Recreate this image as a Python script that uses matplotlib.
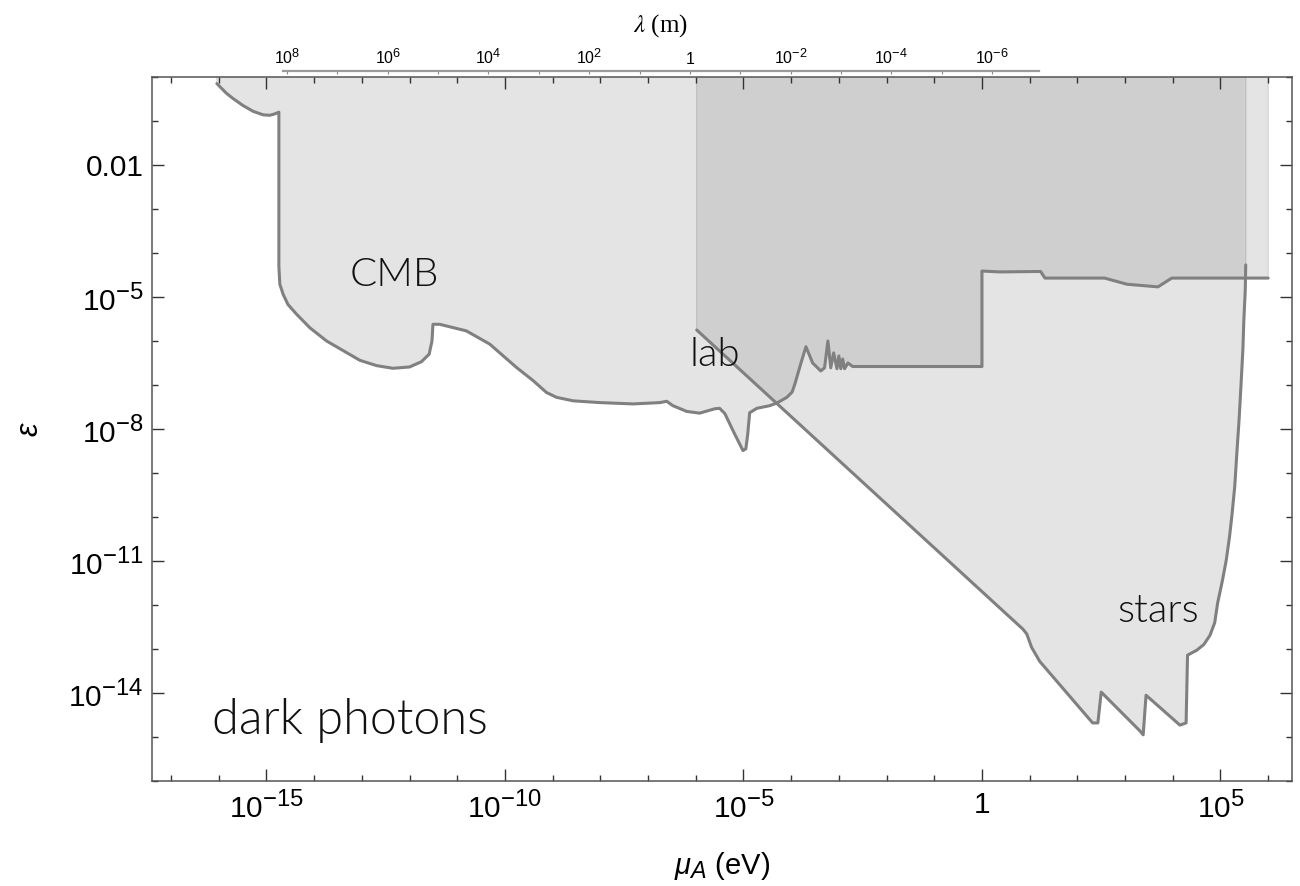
import numpy as np
import matplotlib
matplotlib.use("Agg")
import matplotlib.pyplot as plt
import matplotlib._mathtext as _mathtext
from matplotlib.patches import Polygon
from matplotlib.ticker import FixedLocator, FixedFormatter, NullFormatter

plt.rcParams['font.family'] = ['Liberation Sans', 'DejaVu Sans']
plt.rcParams['mathtext.fontset'] = 'custom'
plt.rcParams['mathtext.rm'] = 'Liberation Sans'
plt.rcParams['mathtext.it'] = 'Liberation Sans:italic'
plt.rcParams['mathtext.bf'] = 'Liberation Sans:bold'
# slightly larger super/subscripts than the mathtext default
_mathtext.SHRINK_FACTOR = 0.8

# CMB exclusion boundary: log10(mass / eV) and log10(kinetic mixing)
cmb_log_mass = [-16.04, -15.84, -15.70, -15.49, -15.28, -15.07, -14.93, -14.83,
                -14.74, -14.74, -14.72, -14.65, -14.55, -14.37, -14.09, -13.74,
                -13.39, -13.04, -12.69, -12.35, -12.00, -11.75, -11.59, -11.53,
                -11.51, -11.37, -10.81, -10.32, -9.76, -9.41, -9.13, -8.92,
                -8.57, -8.01, -7.31, -6.75, -6.61, -6.48, -6.19, -5.92, -5.60,
                -5.50, -5.39, -5.20, -5.01, -4.95, -4.91, -4.87, -4.72, -4.45,
                -4.30, -4.09, -3.98, -3.92, -3.80, -3.69, -3.55, -3.38, -3.30,
                -3.23, -3.17, -3.11, -3.04, -3.00, -2.96, -2.92, -2.88, -2.81,
                -2.71, 0.00, 0.00, 0.37, 1.23, 1.32, 2.57, 3.04, 3.69, 3.98, 6.00]
cmb_log_eps = [-0.15, -0.37, -0.49, -0.65, -0.78, -0.86, -0.87, -0.84,
               -0.80, -4.30, -4.71, -4.94, -5.17, -5.39, -5.70, -6.00,
               -6.22, -6.44, -6.56, -6.62, -6.59, -6.47, -6.30, -6.00,
               -5.62, -5.62, -5.77, -6.07, -6.60, -6.90, -7.17, -7.28,
               -7.36, -7.40, -7.43, -7.40, -7.37, -7.47, -7.60, -7.64, -7.54,
               -7.53, -7.65, -8.08, -8.49, -8.45, -8.11, -7.63, -7.53, -7.47,
               -7.41, -7.28, -7.16, -6.97, -6.52, -6.13, -6.50, -6.68, -6.61,
               -6.00, -6.61, -6.27, -6.63, -6.34, -6.63, -6.41, -6.63, -6.50,
               -6.58, -6.58, -4.41, -4.43, -4.42, -4.57, -4.57, -4.71, -4.77,
               -4.57, -4.57]

# Stellar (and solar) exclusion boundary
stars_log_mass = [-5.98, 0.86, 0.94, 1.04, 1.21, 2.32, 2.43, 2.50, 3.31, 3.38,
                  3.44, 4.15, 4.28, 4.31, 4.50, 4.65, 4.78, 4.88, 4.94, 5.04,
                  5.12, 5.19, 5.24, 5.30, 5.34, 5.39, 5.43, 5.47, 5.49, 5.52,
                  5.53]
stars_log_eps = [-5.75, -12.55, -12.66, -12.96, -13.28, -14.68, -14.68, -13.98,
                 -14.86, -14.95, -14.05, -14.73, -14.68, -13.14, -13.03, -12.90,
                 -12.69, -12.40, -11.96, -11.45, -10.99, -10.45, -9.97, -9.30,
                 -8.61, -7.80, -7.02, -6.20, -5.54, -4.85, -4.27]

# Axis ticks
x_major = [1e-15, 1e-10, 1e-5, 1.0, 1e5]
x_major_labels = [r'$10^{-15}$', r'$10^{-10}$', r'$10^{-5}$', '1', r'$10^{5}$']
y_major = [1e-14, 1e-11, 1e-8, 1e-5, 1e-2]
y_major_labels = [r'$10^{-14}$', r'$10^{-11}$', r'$10^{-8}$', r'$10^{-5}$', '0.01']
lam_major = [1e8, 1e6, 1e4, 1e2, 1.0, 1e-2, 1e-4, 1e-6]
lam_major_labels = [r'$10^{8}$', r'$10^{6}$', r'$10^{4}$', r'$10^{2}$', '1',
                    r'$10^{-2}$', r'$10^{-4}$', r'$10^{-6}$']

LIGHT = '#e4e4e4'
DARK = '#cfcfcf'
LINE = '#808080'

fig = plt.figure(figsize=(13, 8.86), dpi=100)
ax = fig.add_axes([152 / 1300, 1 - 781 / 886, 1140 / 1300, 704 / 886])
ax.set_xscale('log')
ax.set_yscale('log')
ax.set_xlim(10 ** -17.4, 10 ** 6.5)
ax.set_ylim(1e-16, 1.0)

ytop = 10 ** 0.5
cmb_x = 10 ** np.array(cmb_log_mass)
cmb_y = 10 ** np.array(cmb_log_eps)
st_x = 10 ** np.array(stars_log_mass)
st_y = 10 ** np.array(stars_log_eps)

cmb_poly = np.column_stack([np.r_[cmb_x[0], cmb_x, cmb_x[-1]],
                            np.r_[ytop, cmb_y, ytop]])
st_poly = np.column_stack([np.r_[st_x[0], st_x, st_x[-1]],
                           np.r_[ytop, st_y, ytop]])

cmb_patch = Polygon(cmb_poly, closed=True, facecolor=LIGHT,
                    edgecolor='#d6d6d6', lw=1.0, zorder=1.0)
st_patch = Polygon(st_poly, closed=True, facecolor=LIGHT,
                   edgecolor='none', zorder=1.1)
ax.add_patch(cmb_patch)
ax.add_patch(st_patch)

# overlap of the two excluded regions
overlap = Polygon(cmb_poly, closed=True, facecolor=DARK, edgecolor='none',
                  zorder=1.2)
ax.add_patch(overlap)
overlap.set_clip_path(st_patch)

st_edge = Polygon(st_poly, closed=True, fill=False, edgecolor='#c2c2c2',
                  lw=1.0, zorder=1.3)
ax.add_patch(st_edge)

ax.plot(cmb_x, cmb_y, color=LINE, lw=2.2, solid_joinstyle='round',
        solid_capstyle='round', zorder=2)
ax.plot(st_x, st_y, color=LINE, lw=2.2, solid_joinstyle='round',
        solid_capstyle='round', zorder=2)

# ticks
ax.xaxis.set_major_locator(FixedLocator(x_major))
ax.xaxis.set_major_formatter(FixedFormatter(x_major_labels))
ax.xaxis.set_minor_locator(FixedLocator(10.0 ** np.arange(-17, 7)))
ax.xaxis.set_minor_formatter(NullFormatter())
ax.yaxis.set_major_locator(FixedLocator(y_major))
ax.yaxis.set_major_formatter(FixedFormatter(y_major_labels))
ax.yaxis.set_minor_locator(FixedLocator(10.0 ** np.arange(-16, 1)))
ax.yaxis.set_minor_formatter(NullFormatter())

ax.tick_params(which='both', direction='in', top=True, right=True,
               color='#333333', labelsize=21.5, labelcolor='black')
ax.tick_params(which='major', length=8.4, width=1.0)
ax.tick_params(which='minor', length=4.2, width=1.0)
ax.tick_params(axis='x', which='major', pad=7)
ax.tick_params(axis='y', which='major', pad=6)
for sp in ax.spines.values():
    sp.set_color('#555555')
    sp.set_linewidth(1.1)

ax.set_xlabel(r'$\mu_A$ (eV)', fontsize=21)
ax.xaxis.set_label_coords(0.5, -0.098)
ax.set_ylabel(r'$\epsilon$', fontsize=22)
ax.yaxis.set_label_coords(-0.094, 0.5)

label_font = dict(family=['Lato', 'DejaVu Sans'], fontweight=300,
                  color='#111111', va='baseline')
ax.text(10 ** -12.32, 10 ** -4.75, 'CMB', fontsize=29, ha='center', **label_font)
ax.text(10 ** -5.60, 10 ** -6.565, 'lab', fontsize=29, ha='center', **label_font)
ax.text(10 ** 3.69, 10 ** -12.39, 'stars', fontsize=29, ha='center', **label_font)
ax.text(10 ** -16.15, 10 ** -14.93, 'dark photons', fontsize=35, ha='left',
        **label_font)

# wavelength scale
axl = fig.add_axes([283 / 1300, 1 - 71 / 886, 756 / 1300, 0.0001])
axl.set_xscale('log')
axl.set_xlim(10 ** 8.08, 10 ** -6.93)
axl.patch.set_visible(False)
for name in ('left', 'right', 'bottom'):
    axl.spines[name].set_visible(False)
axl.spines['top'].set_color('#9a9a9a')
axl.spines['top'].set_linewidth(1.6)
axl.set_yticks([])
axl.xaxis.set_major_locator(FixedLocator(lam_major))
axl.xaxis.set_major_formatter(FixedFormatter(lam_major_labels))
axl.xaxis.set_minor_locator(FixedLocator(10.0 ** np.arange(-5, 9, 2)))
axl.xaxis.set_minor_formatter(NullFormatter())
axl.tick_params(axis='x', which='both', top=True, bottom=False, labeltop=True,
                labelbottom=False, direction='in', length=2, width=0.8,
                color='#8a8a8a', labelsize=11.5, pad=3)
fig.text(661 / 1300, 1 - 26 / 886, r'$\lambda$ (m)', family='Liberation Serif',
         math_fontfamily='stix', fontsize=18, ha='center', va='center')

fig.savefig('out.png', dpi=100)
